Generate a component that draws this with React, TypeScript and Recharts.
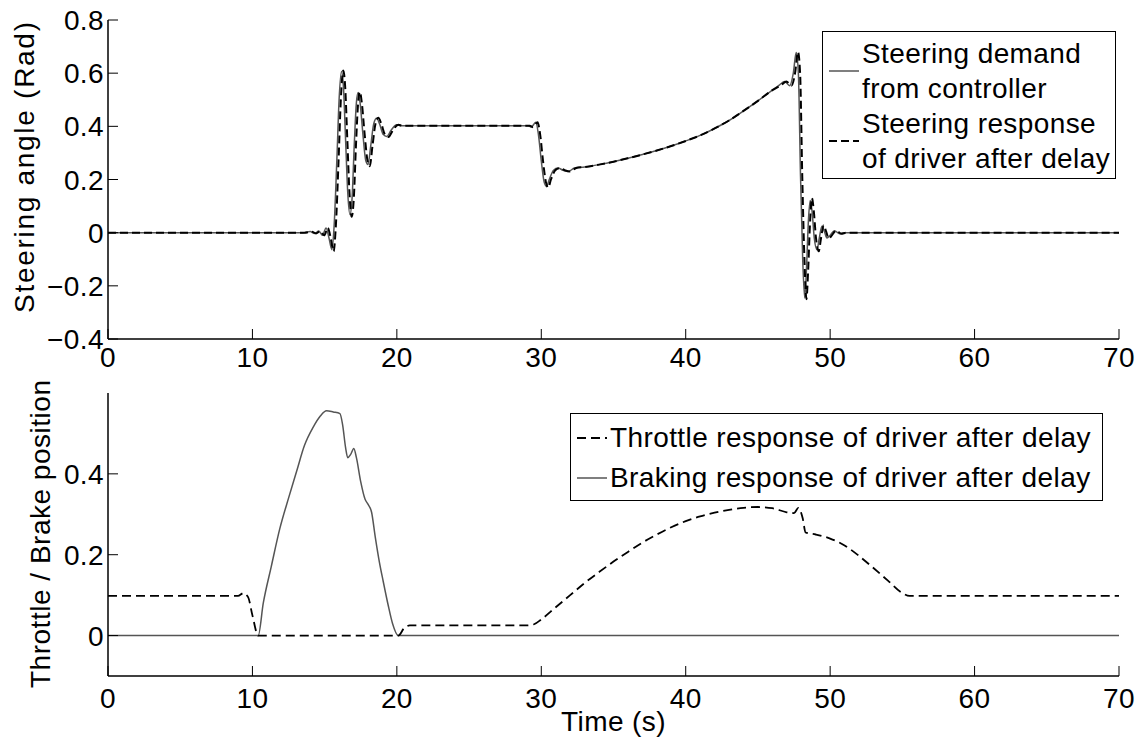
import React from 'react';
import { LineChart, Line, XAxis, YAxis, Legend } from 'recharts';

const FONT = "'Liberation Sans', Arial, Helvetica, sans-serif";

// axis ticks
const timeTicks = [0, 10, 20, 30, 40, 50, 60, 70];
const steerTicks = [-0.4, -0.2, 0, 0.2, 0.4, 0.6, 0.8];
const pedalTicks = [0, 0.2, 0.4];

// series names
const demandName = 'Steering demand\nfrom controller';
const responseName = 'Steering response\nof driver after delay';
const throttleName = 'Throttle response of driver after delay';
const brakeName = 'Braking response of driver after delay';

// steering demand from controller (solid)
const demandTime = [0, 13.5, 14.0, 14.3, 14.6, 14.85, 15.1, 15.3, 15.5, 15.65, 15.85, 16.0, 16.17, 16.3, 16.45, 16.6, 16.75, 16.9, 17.05, 17.2, 17.32, 17.45, 17.65, 17.85, 18.0, 18.2, 18.4, 18.6, 18.8, 19.05, 19.3, 19.6, 19.98, 20.3, 29.1, 29.3, 29.62, 29.8, 30.0, 30.2, 30.36, 30.55, 30.85, 31.16, 31.5, 31.86, 32.3, 33, 34, 35, 36, 37, 38, 39, 40, 41, 42, 43, 44, 45, 46, 46.5, 46.85, 47.2, 47.45, 47.65, 47.8, 47.95, 48.1, 48.24, 48.35, 48.5, 48.62, 48.75, 48.9, 49.09, 49.25, 49.43, 49.6, 49.78, 50.0, 50.3, 50.66, 51.0, 70];
const demandValue = [0, 0, 0.004, -0.003, 0.006, -0.01, 0.018, -0.02, -0.064, 0.02, 0.28, 0.5, 0.606, 0.55, 0.35, 0.15, 0.068, 0.13, 0.33, 0.49, 0.527, 0.49, 0.37, 0.27, 0.256, 0.33, 0.41, 0.43, 0.41, 0.37, 0.362, 0.385, 0.406, 0.402, 0.402, 0.397, 0.415, 0.37, 0.27, 0.19, 0.174, 0.2, 0.235, 0.243, 0.235, 0.23, 0.243, 0.247, 0.256, 0.267, 0.28, 0.294, 0.309, 0.326, 0.345, 0.366, 0.392, 0.422, 0.458, 0.496, 0.536, 0.556, 0.569, 0.553, 0.6, 0.678, 0.6, 0.21, -0.1, -0.246, -0.15, 0.05, 0.121, 0.08, -0.02, -0.064, -0.02, 0.024, 0.005, -0.02, -0.01, 0.0075, -0.004, 0, 0];

// steering response of driver after delay (dashed)
const responseTime = [0, 13.6, 14.1, 14.4, 14.7, 14.97, 15.22, 15.42, 15.62, 15.77, 15.97, 16.12, 16.29, 16.42, 16.57, 16.72, 16.87, 17.02, 17.17, 17.32, 17.44, 17.57, 17.77, 17.97, 18.12, 18.32, 18.52, 18.72, 18.92, 19.17, 19.42, 19.72, 20.1, 20.4, 29.2, 29.42, 29.74, 29.92, 30.12, 30.32, 30.48, 30.67, 30.97, 31.28, 31.62, 31.98, 32.42, 33, 34, 35, 36, 37, 38, 39, 40, 41, 42, 43, 44, 45, 46, 46.62, 46.97, 47.32, 47.57, 47.77, 47.92, 48.07, 48.22, 48.36, 48.47, 48.62, 48.74, 48.87, 49.02, 49.21, 49.37, 49.55, 49.72, 49.9, 50.12, 50.42, 50.78, 51.1, 70];
const responseValue = [0, 0, 0.004, -0.003, 0.006, -0.01, 0.018, -0.02, -0.07, 0.02, 0.28, 0.5, 0.61, 0.55, 0.35, 0.15, 0.06, 0.13, 0.33, 0.49, 0.53, 0.49, 0.37, 0.27, 0.25, 0.33, 0.41, 0.432, 0.41, 0.37, 0.36, 0.385, 0.406, 0.402, 0.402, 0.397, 0.415, 0.37, 0.27, 0.19, 0.17, 0.2, 0.235, 0.243, 0.235, 0.23, 0.243, 0.247, 0.256, 0.267, 0.28, 0.294, 0.309, 0.326, 0.345, 0.366, 0.392, 0.422, 0.458, 0.496, 0.536, 0.556, 0.569, 0.553, 0.6, 0.68, 0.6, 0.21, -0.1, -0.25, -0.15, 0.05, 0.13, 0.08, -0.02, -0.07, -0.02, 0.028, 0.005, -0.022, -0.01, 0.008, -0.004, 0, 0];

// throttle response (dashed)
const throttleTime = [0, 9.0, 9.37, 9.7, 10.0, 10.4, 20.1, 20.5, 20.9, 21.5, 29.0, 29.5, 30, 31, 32, 33, 34, 35, 36, 37, 38, 39, 40, 41, 42, 43, 44, 45, 46, 47, 47.5, 47.8, 48.1, 48.3, 49, 50, 51, 52, 53, 54, 55, 55.5, 70];
const throttleValue = [0.098, 0.098, 0.105, 0.095, 0.05, 0, 0, 0.018, 0.025, 0.025, 0.025, 0.028, 0.04, 0.07, 0.1, 0.13, 0.157, 0.183, 0.207, 0.23, 0.25, 0.268, 0.283, 0.295, 0.304, 0.311, 0.316, 0.318, 0.315, 0.305, 0.303, 0.316, 0.29, 0.255, 0.25, 0.24, 0.223, 0.197, 0.167, 0.136, 0.105, 0.098, 0.098];

// braking response (solid)
const brakeTime = [0, 10.4, 10.75, 11.3, 11.9, 12.5, 13.05, 13.6, 14.2, 14.7, 15.13, 15.6, 16.06, 16.25, 16.45, 16.6, 16.8, 17.02, 17.2, 17.5, 17.8, 18.0, 18.25, 18.5, 18.8, 19.05, 19.4, 19.7, 20.1, 70];
const brakeValue = [0, 0, 0.08, 0.17, 0.265, 0.34, 0.405, 0.47, 0.515, 0.543, 0.556, 0.553, 0.549, 0.52, 0.465, 0.44, 0.448, 0.463, 0.44, 0.38, 0.337, 0.325, 0.305, 0.245, 0.18, 0.135, 0.075, 0.03, 0, 0];

const toRows = (t: number[], v: number[]) => t.map((time, i) => ({ time, value: v[i] }));

const demandRows = toRows(demandTime, demandValue);
const responseRows = toRows(responseTime, responseValue);
const throttleRows = toRows(throttleTime, throttleValue);
const brakeRows = toRows(brakeTime, brakeValue);

const FS = 28;
const LS = 0.4;
const textStyle: React.CSSProperties = { fontFamily: FONT, fontSize: FS, letterSpacing: LS, fill: '#000' };
const axisLine = { stroke: '#000', strokeWidth: 1.5 };

const fmt = (v: number) => (v < 0 ? '\u2212' + String(-v) : String(v));

// MATLAB style ticks: marks point into the plot box
const bottomTick = (gap: number) => (p: any) => (
  <g>
    <line x1={p.x} x2={p.x} y1={p.y - gap} y2={p.y - gap - 10} stroke="#000" strokeWidth={1} />
    <text x={p.x} y={p.y} dy="0.72em" textAnchor="middle" style={textStyle}>{fmt(p.payload.value)}</text>
  </g>
);
const topTick = (p: any) => <line x1={p.x} x2={p.x} y1={p.y} y2={p.y + 10} stroke="#000" strokeWidth={1} />;
const leftTick = (gap: number) => (p: any) => (
  <g>
    <line x1={p.x + gap} x2={p.x + gap + 10} y1={p.y} y2={p.y} stroke="#000" strokeWidth={1} />
    <text x={p.x} y={p.y} dy="0.36em" textAnchor="end" style={textStyle}>{fmt(p.payload.value)}</text>
  </g>
);
const rightTick = (p: any) => <line x1={p.x} x2={p.x - 10} y1={p.y} y2={p.y} stroke="#000" strokeWidth={1} />;

const AxisTitle = ({ px, py, title, rotate, length }: any) => (
  <text
    x={px}
    y={py}
    textAnchor="middle"
    transform={rotate ? `rotate(-90 ${px} ${py})` : undefined}
    textLength={length}
    lengthAdjust={length ? 'spacing' : undefined}
    style={{ ...textStyle, letterSpacing: length ? 0 : LS }}
  >
    {title}
  </text>
);

const legendBox = (order: string[], lineHeight: number) => (props: any) => {
  const entries = order.map((n) => (props.payload || []).find((e: any) => e.value === n)).filter(Boolean);
  return (
    <div
      style={{
        boxSizing: 'border-box',
        width: '100%',
        height: '100%',
        border: '1px solid #000',
        background: '#fff',
        padding: '4px 0',
        fontFamily: FONT,
        fontSize: FS,
        letterSpacing: LS,
        color: '#000',
        textAlign: 'left',
      }}
    >
      {entries.map((e: any) => (
        <div key={e.value} style={{ display: 'flex', alignItems: 'center' }}>
          <svg width={39} height={12} style={{ flex: 'none' }}>
            <line
              x1={6}
              x2={36}
              y1={6}
              y2={6}
              stroke={e.color}
              strokeWidth={e.payload?.strokeWidth ?? 1.5}
              strokeDasharray={e.payload?.strokeDasharray}
            />
          </svg>
          <div style={{ whiteSpace: 'pre', lineHeight: `${lineHeight}px` }}>{e.value}</div>
        </div>
      ))}
    </div>
  );
};

export default function App() {
  return (
    <div style={{ position: 'absolute', left: 0, top: 0, width: 1145, height: 740, background: '#fff' }}>
      <div style={{ position: 'absolute', left: 0, top: 0 }}>
        <LineChart width={1145} height={372} margin={{ top: 20, right: 26, bottom: 0, left: 0 }}>
          <XAxis
            dataKey="time"
            type="number"
            domain={[0, 70]}
            ticks={timeTicks}
            interval={0}
            allowDataOverflow
            height={33}
            tickSize={0}
            tickMargin={8}
            tickLine={false}
            axisLine={axisLine}
            tick={bottomTick(8)}
          />
          <XAxis
            xAxisId="top"
            orientation="top"
            type="number"
            domain={[0, 70]}
            ticks={timeTicks}
            interval={0}
            allowDataOverflow
            height={0}
            tickSize={0}
            tickMargin={0}
            tickLine={false}
            axisLine={axisLine}
            tick={topTick}
          />
          <YAxis
            type="number"
            domain={[-0.4, 0.8]}
            ticks={steerTicks}
            interval={0}
            allowDataOverflow
            width={108}
            tickSize={0}
            tickMargin={4}
            tickLine={false}
            axisLine={axisLine}
            tick={leftTick(4)}
            label={<AxisTitle px={34} py={167.5} rotate title="Steering angle (Rad)" length={291} />}
          />
          <YAxis
            yAxisId="right"
            orientation="right"
            type="number"
            domain={[-0.4, 0.8]}
            ticks={steerTicks}
            interval={0}
            allowDataOverflow
            width={0}
            tickSize={0}
            tickMargin={0}
            tickLine={false}
            axisLine={axisLine}
            tick={rightTick}
          />
          <Legend
            layout="vertical"
            align="center"
            verticalAlign="middle"
            width={294}
            height={148}
            wrapperStyle={{ left: 822, top: 31, width: 294, height: 148 }}
            content={legendBox([demandName, responseName], 35)}
          />
          <Line
            data={demandRows}
            dataKey="value"
            name={demandName}
            type="monotone"
            stroke="#555"
            strokeWidth={1.5}
            dot={false}
            activeDot={false}
            isAnimationActive={false}
          />
          <Line
            data={responseRows}
            dataKey="value"
            name={responseName}
            type="monotone"
            stroke="#000"
            strokeWidth={2}
            strokeDasharray="8 4"
            dot={false}
            activeDot={false}
            isAnimationActive={false}
          />
        </LineChart>
      </div>
      <div style={{ position: 'absolute', left: 0, top: 370 }}>
        <LineChart width={1145} height={370} margin={{ top: 23, right: 26, bottom: 0, left: 0 }}>
          <XAxis
            dataKey="time"
            type="number"
            domain={[0, 70]}
            ticks={timeTicks}
            interval={0}
            allowDataOverflow
            height={64}
            tickSize={0}
            tickMargin={12}
            tickLine={false}
            axisLine={axisLine}
            tick={bottomTick(12)}
            label={<AxisTitle px={613.5} py={361} title="Time (s)" />}
          />
          <XAxis
            xAxisId="top"
            orientation="top"
            type="number"
            domain={[0, 70]}
            ticks={timeTicks}
            interval={0}
            allowDataOverflow
            height={0}
            tickSize={0}
            tickMargin={0}
            tickLine={false}
            axisLine={axisLine}
            tick={topTick}
          />
          <YAxis
            type="number"
            domain={[-0.1, 0.6]}
            ticks={pedalTicks}
            interval={0}
            allowDataOverflow
            width={108}
            tickSize={0}
            tickMargin={4}
            tickLine={false}
            axisLine={axisLine}
            tick={leftTick(4)}
            label={<AxisTitle px={49.5} py={164} rotate title="Throttle / Brake position" length={308} />}
          />
          <YAxis
            yAxisId="right"
            orientation="right"
            type="number"
            domain={[-0.1, 0.6]}
            ticks={pedalTicks}
            interval={0}
            allowDataOverflow
            width={0}
            tickSize={0}
            tickMargin={0}
            tickLine={false}
            axisLine={axisLine}
            tick={rightTick}
          />
          <Legend
            layout="vertical"
            align="center"
            verticalAlign="middle"
            width={533}
            height={88}
            wrapperStyle={{ left: 570, top: 42.6, width: 533, height: 88 }}
            content={legendBox([throttleName, brakeName], 40)}
          />
          <Line
            data={brakeRows}
            dataKey="value"
            name={brakeName}
            type="monotone"
            stroke="#555"
            strokeWidth={1.5}
            dot={false}
            activeDot={false}
            isAnimationActive={false}
          />
          <Line
            data={throttleRows}
            dataKey="value"
            name={throttleName}
            type="monotone"
            stroke="#000"
            strokeWidth={1.8}
            strokeDasharray="9 5"
            dot={false}
            activeDot={false}
            isAnimationActive={false}
          />
        </LineChart>
      </div>
    </div>
  );
}
